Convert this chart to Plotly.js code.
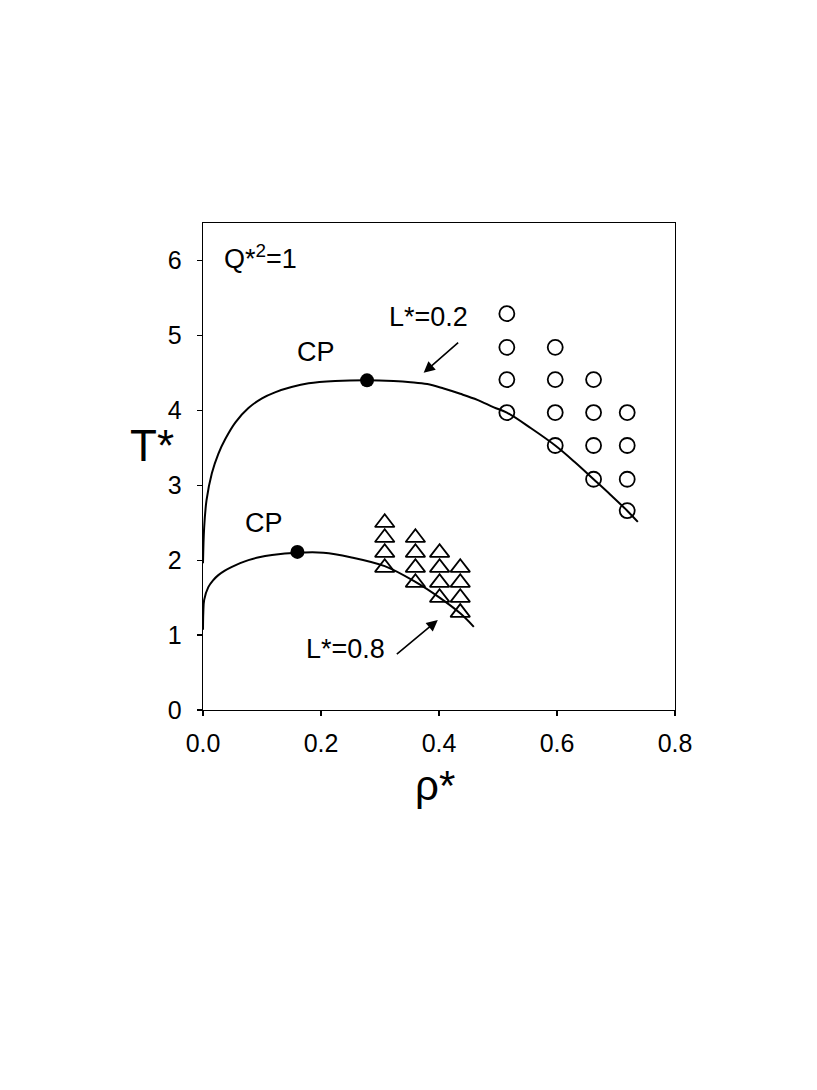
<!DOCTYPE html>
<html>
<head>
<meta charset="utf-8">
<script src="https://cdn.plot.ly/plotly-3.0.1.min.js"></script>
<style>
  html, body { margin: 0; padding: 0; background: #fff; }
  #chart { width: 817px; height: 1090px; }
</style>
</head>
<body>
<div id="chart"></div>
<script>
  // coexistence curves
  const curve02Rho = [0, 0.002, 0.006, 0.015, 0.026, 0.038, 0.055, 0.077, 0.100, 0.122, 0.150, 0.179, 0.224, 0.278, 0.323, 0.352, 0.380, 0.408, 0.436, 0.465, 0.493, 0.515, 0.556, 0.597, 0.630, 0.662, 0.691, 0.719, 0.737];
  const curve02T = [1.96, 2.44, 2.80, 3.16, 3.42, 3.62, 3.84, 4.03, 4.16, 4.24, 4.31, 4.36, 4.39, 4.40, 4.39, 4.375, 4.35, 4.29, 4.22, 4.14, 4.04, 3.97, 3.76, 3.53, 3.31, 3.08, 2.87, 2.66, 2.51];

  const curve08Rho = [0, 0.0005, 0.002, 0.009, 0.017, 0.026, 0.037, 0.049, 0.063, 0.077, 0.095, 0.117, 0.160, 0.204, 0.25, 0.308, 0.360, 0.401, 0.436, 0.459];
  const curve08T = [1.07, 1.30, 1.47, 1.64, 1.73, 1.80, 1.86, 1.91, 1.96, 2.0, 2.04, 2.07, 2.10, 2.10, 2.04, 1.92, 1.71, 1.50, 1.29, 1.11];

  // open circles (L*=0.2)
  const circleRho = [0.515, 0.515, 0.515, 0.515, 0.597, 0.597, 0.597, 0.597, 0.662, 0.662, 0.662, 0.662, 0.719, 0.719, 0.719, 0.719];
  const circleT = [5.29, 4.84, 4.41, 3.97, 4.84, 4.41, 3.97, 3.53, 4.41, 3.97, 3.53, 3.08, 3.97, 3.53, 3.08, 2.66];

  // open triangles (L*=0.8)
  const triRho = [0.308, 0.308, 0.308, 0.308, 0.360, 0.360, 0.360, 0.360, 0.401, 0.401, 0.401, 0.401, 0.436, 0.436, 0.436, 0.436];
  const triT = [2.5, 2.3, 2.1, 1.9, 2.3, 2.1, 1.9, 1.7, 2.1, 1.9, 1.7, 1.5, 1.9, 1.7, 1.5, 1.3];

  // critical points
  const cpRho = [0.278, 0.160];
  const cpT = [4.40, 2.11];

  const xTicks = [0, 0.2, 0.4, 0.6, 0.8];
  const yTicks = [0, 1, 2, 3, 4, 5, 6];

  // labels: text, rho, T
  const labelText = ["CP", "CP", "L*=0.2", "L*=0.8"];
  const labelRho = [0.192, 0.103, 0.382, 0.241];
  const labelT = [4.78, 2.49, 5.24, 0.82];

  // arrows: head (rho, T) and tail (rho, T)
  const arrowHeadRho = [0.374, 0.398];
  const arrowHeadT = [4.50, 1.20];
  const arrowTailRho = [0.435, 0.326];
  const arrowTailT = [4.92, 0.73];

  const FONT = "Liberation Sans, Arial, Helvetica, sans-serif";

  const traces = [
    {
      type: "scatter",
      mode: "lines",
      x: curve02Rho,
      y: curve02T,
      line: { color: "#000", width: 2, shape: "spline", smoothing: 1 },
      hoverinfo: "skip"
    },
    {
      type: "scatter",
      mode: "lines",
      x: curve08Rho,
      y: curve08T,
      line: { color: "#000", width: 2, shape: "spline", smoothing: 1 },
      hoverinfo: "skip"
    },
    {
      type: "scatter",
      mode: "markers",
      x: circleRho,
      y: circleT,
      marker: { symbol: "circle-open", size: 15, color: "#000", line: { width: 1.8 } }
    },
    {
      type: "scatter",
      mode: "markers",
      x: triRho,
      y: triT,
      marker: { symbol: "triangle-up-open", size: 17, color: "#000", line: { width: 1.8 } }
    },
    {
      type: "scatter",
      mode: "markers",
      x: cpRho,
      y: cpT,
      marker: { symbol: "circle", size: 14, color: "#000" }
    }
  ];

  const annotations = [];
  for (let i = 0; i < labelText.length; i += 1) {
    annotations.push({
      text: labelText[i],
      x: labelRho[i],
      y: labelT[i],
      xref: "x",
      yref: "y",
      xanchor: "center",
      yanchor: "middle",
      showarrow: false,
      font: { size: 27, color: "#000", family: FONT }
    });
  }
  for (let i = 0; i < arrowHeadRho.length; i += 1) {
    annotations.push({
      text: "",
      x: arrowHeadRho[i],
      y: arrowHeadT[i],
      ax: arrowTailRho[i],
      ay: arrowTailT[i],
      xref: "x",
      yref: "y",
      axref: "x",
      ayref: "y",
      showarrow: true,
      arrowhead: 2,
      arrowsize: 1.4,
      arrowwidth: 1.6,
      arrowcolor: "#000"
    });
  }
  annotations.push({
    text: "Q*<sup>2</sup>=1",
    x: 0.032,
    y: 6.04,
    xref: "x",
    yref: "y",
    xanchor: "left",
    yanchor: "middle",
    showarrow: false,
    font: { size: 27, color: "#000", family: FONT }
  });
  // axis titles (T* is drawn upright in the original)
  annotations.push({
    text: "T*",
    x: 152,
    y: 445,
    xref: "paper",
    yref: "paper",
    showarrow: false,
    font: { size: 44, color: "#000", family: FONT }
  });
  annotations.push({
    text: "ρ*",
    x: 435,
    y: 785,
    xref: "paper",
    yref: "paper",
    showarrow: false,
    font: { size: 42, color: "#000", family: FONT }
  });

  // convert the two pixel-placed titles to paper coords
  const L = 203, R = 142, T = 223, B = 380, W = 817, H = 1090;
  const pw = W - L - R, ph = H - T - B;
  annotations.forEach(function (a) {
    if (a.xref === "paper") {
      a.x = (a.x - L) / pw;
      a.y = (H - B - a.y) / ph;
      a.xanchor = "center";
      a.yanchor = "middle";
    }
  });

  const axisCommon = {
    showline: true,
    linecolor: "#000",
    linewidth: 1.3,
    mirror: true,
    showgrid: false,
    zeroline: false,
    ticks: "outside",
    ticklen: 5,
    tickwidth: 1.3,
    tickcolor: "#000",
    tickfont: { size: 25, color: "#000", family: FONT },
    fixedrange: true
  };

  const layout = {
    width: W,
    height: H,
    margin: { l: L, r: R, t: T, b: B },
    paper_bgcolor: "#fff",
    plot_bgcolor: "#fff",
    showlegend: false,
    font: { family: FONT, color: "#000" },
    xaxis: Object.assign({}, axisCommon, {
      range: [0, 0.8],
      tickvals: xTicks,
      ticktext: xTicks.map(function (v) { return v.toFixed(1); }),
      ticklabelstandoff: 6
    }),
    yaxis: Object.assign({}, axisCommon, {
      range: [0, 6.5],
      tickvals: yTicks,
      ticktext: yTicks.map(String),
      ticklabelstandoff: 10
    }),
    annotations: annotations
  };

  Plotly.newPlot("chart", traces, layout, { displayModeBar: false, staticPlot: true });
</script>
</body>
</html>
